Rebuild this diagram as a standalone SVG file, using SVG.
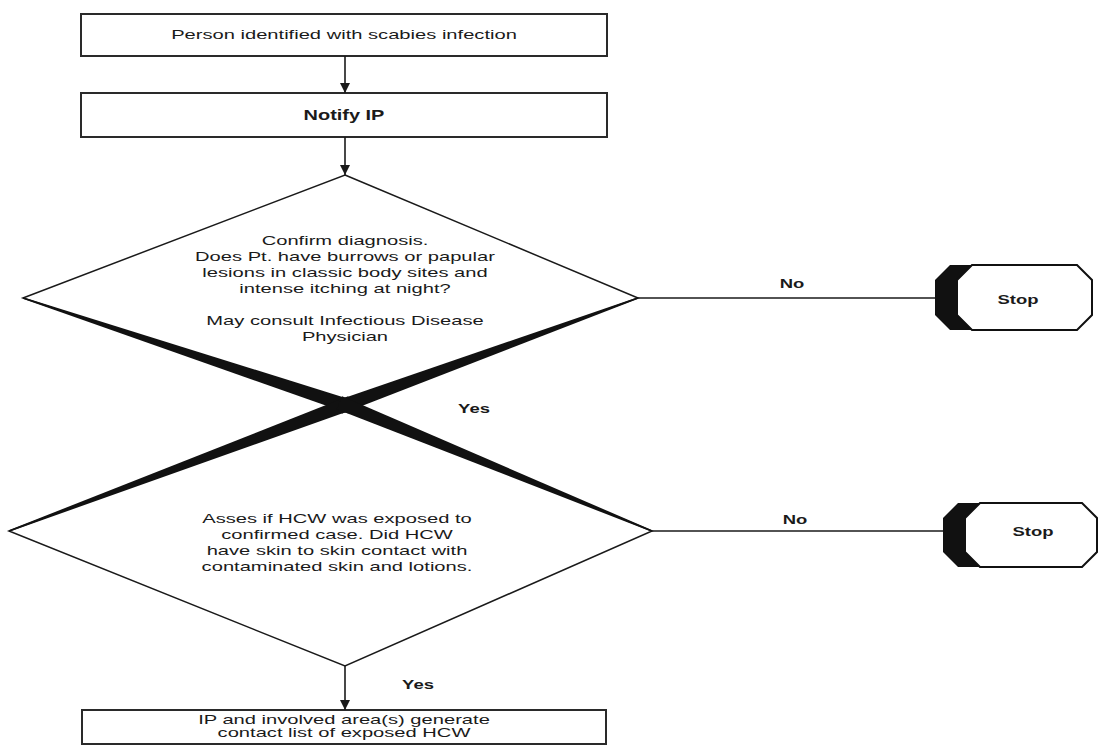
<svg xmlns="http://www.w3.org/2000/svg" width="1100" height="746" viewBox="0 0 1100 746">
<style>
.box{fill:#fff;stroke:#2a2a2a;stroke-width:2}
.dia{fill:#fff;stroke:#1a1a1a;stroke-width:1.5}
.t{font-family:"Liberation Sans",Arial,sans-serif;font-size:13px;fill:#1a1a1a;text-anchor:middle}
.b{font-weight:bold}
.shade{fill:#111}
.conn{stroke:#1a1a1a;stroke-width:1.6;fill:none}
.arrow{marker-end:url(#ah)}
.oct{fill:#fff;stroke:#111;stroke-width:2}
</style>
<defs>
<marker id="ah" viewBox="0 0 10 10" markerWidth="10" markerHeight="10" refX="10" refY="5" orient="auto" markerUnits="userSpaceOnUse">
<path d="M0,0 L10,5 L0,10 Z" fill="#1a1a1a"/>
</marker>
</defs>
<rect width="1100" height="746" fill="#fff"/>

<g id="box-identified">
<rect class="box" x="81" y="14" width="526" height="42"/>
<text class="t" transform="translate(344,39) scale(1.55,1)">Person identified with scabies infection</text>
</g>

<g id="box-notify">
<rect class="box" x="81" y="93" width="526" height="44"/>
<text class="t b" style="font-size:15px" transform="translate(344,120) scale(1.33,1)">Notify IP</text>
</g>

<g id="diamond-confirm">
<polygon class="dia" points="345,175 638,298 345,405 23,298"/>
<g class="t" transform="translate(345,0) scale(1.55,1)">
<text y="245">Confirm diagnosis.</text>
<text y="261">Does Pt. have burrows or papular</text>
<text y="277">lesions in classic body sites and</text>
<text y="293">intense itching at night?</text>
<text y="325">May consult Infectious Disease</text>
<text y="341">Physician</text>
</g>
</g>

<g id="diamond-exposure">
<polygon class="dia" points="345,405 652,531 345,666 9,531"/>
<g class="t" transform="translate(337,0) scale(1.55,1)">
<text y="523">Asses if HCW was exposed to</text>
<text y="539">confirmed case. Did HCW</text>
<text y="555">have skin to skin contact with</text>
<text y="571">contaminated skin and lotions.</text>
</g>
</g>

<g id="diamond-edge-shading">
<polygon class="shade" points="23.25,297.24 352.90,400.25 348.48,413.53 22.75,298.76"/>
<polygon class="shade" points="637.73,297.25 336.96,400.48 341.76,413.64 638.27,298.75"/>
<polygon class="shade" points="8.72,530.25 348.16,396.33 353.08,409.45 9.28,531.75"/>
<polygon class="shade" points="652.30,530.26 342.11,396.25 336.79,409.20 651.70,531.74"/>
</g>

<g id="stop-1">
<polygon class="shade" points="950,265 1055,265 1070,280 1070,315 1055,330 950,330 935,315 935,280"/>
<polygon class="oct" points="972,265 1077,265 1092,280 1092,315 1077,330 972,330 957,315 957,280"/>
<text class="t b" transform="translate(1018,304) scale(1.42,1)">Stop</text>
</g>

<g id="stop-2">
<polygon class="shade" points="958,503 1060,503 1075,518 1075,552 1060,567 958,567 943,552 943,518"/>
<polygon class="oct" points="980,503 1082,503 1097,518 1097,552 1082,567 980,567 965,552 965,518"/>
<text class="t b" transform="translate(1033,536) scale(1.42,1)">Stop</text>
</g>

<g id="box-contact-list">
<rect class="box" x="82" y="710" width="524" height="34"/>
<g class="t" transform="translate(344,0) scale(1.55,1)">
<text y="724">IP and involved area(s) generate</text>
<text y="737">contact list of exposed HCW</text>
</g>
</g>

<g id="connectors">
<line class="conn arrow" x1="345" y1="56" x2="345" y2="93"/>
<line class="conn arrow" x1="345" y1="137" x2="345" y2="175"/>
<line class="conn" x1="638" y1="298" x2="935" y2="298"/>
<line class="conn" x1="652" y1="531" x2="943" y2="531"/>
<line class="conn arrow" x1="345" y1="666" x2="345" y2="710"/>
<text class="t b" transform="translate(792,288) scale(1.42,1)">No</text>
<text class="t b" transform="translate(795,524) scale(1.42,1)">No</text>
<text class="t b" transform="translate(474,413) scale(1.42,1)">Yes</text>
<text class="t b" transform="translate(418,689) scale(1.42,1)">Yes</text>
</g>
</svg>
